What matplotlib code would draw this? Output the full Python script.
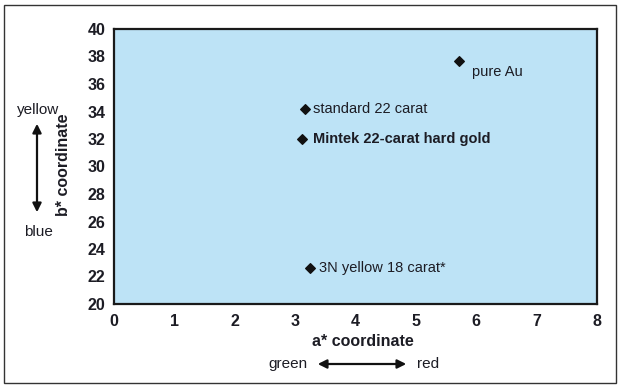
import matplotlib.pyplot as plt
from matplotlib.patches import Rectangle, FancyArrowPatch

# gold alloy colour coordinates (CIELab a*, b*)
names = ["pure Au", "standard 22 carat", "Mintek 22-carat hard gold", "3N yellow 18 carat*"]
a_star = [5.72, 3.16, 3.12, 3.25]
b_star = [37.7, 34.2, 32.0, 22.6]
bold = [False, False, True, False]
offsets = [(9, -8), (6, 0), (8, 0), (6, 0)]
x_ticks = list(range(0, 9))
y_ticks = list(range(20, 41, 2))

plt.rcParams['font.family'] = ['Liberation Sans', 'DejaVu Sans']
text_col = '#1c1c24'

fig = plt.figure(figsize=(6.22, 3.86), dpi=100)
fig.patch.set_facecolor('white')
fig.patches.append(Rectangle((4 / 622, 1 - 383 / 386), 612 / 622, 378 / 386,
                             transform=fig.transFigure, fill=False,
                             edgecolor='#333333', linewidth=1.0))

ax = fig.add_axes([114 / 622, 1 - 304 / 386, 483 / 622, 275 / 386])
ax.set_facecolor('#bde3f6')
ax.set_xlim(0, 8)
ax.set_ylim(20, 40)
ax.set_xticks(x_ticks)
ax.set_yticks(y_ticks)
ax.tick_params(length=0, labelsize=11.5, labelcolor=text_col)
ax.tick_params(axis='x', pad=7)
ax.tick_params(axis='y', pad=6)
for lab in ax.get_xticklabels() + ax.get_yticklabels():
    lab.set_fontweight('bold')
for s in ax.spines.values():
    s.set_linewidth(1.6)
    s.set_color('#1a1a1a')

ax.scatter(a_star, b_star, marker='D', s=24, color='#111111', zorder=3)
for n, x, y, b, off in zip(names, a_star, b_star, bold, offsets):
    ax.annotate(n, (x, y), xytext=off, textcoords='offset points',
                ha='left', va='center', fontsize=10.5, color=text_col,
                fontweight='bold' if b else 'normal')

# axis titles
fig.text(363 / 622, 1 - 342 / 386, "a* coordinate", ha='center', va='center',
         fontsize=11.5, fontweight='bold', color=text_col)
fig.text(64 / 622, 1 - 165 / 386, "b* coordinate", ha='center', va='center',
         rotation=90, fontsize=11.5, fontweight='bold', color=text_col)

# direction hints
fig.text(38 / 622, 1 - 110 / 386, "yellow", ha='center', va='center', fontsize=11, color=text_col)
fig.text(38 / 622, 1 - 232 / 386, "blue", ha='center', va='center', fontsize=11, color=text_col)
fig.text(288 / 622, 1 - 364 / 386, "green", ha='center', va='center', fontsize=11, color=text_col)
fig.text(428 / 622, 1 - 364 / 386, "red", ha='center', va='center', fontsize=11, color=text_col)

fig.patches.append(FancyArrowPatch(
    (37 / 622, 1 - 121 / 386), (37 / 622, 1 - 215 / 386), transform=fig.transFigure,
    arrowstyle='<|-|>', mutation_scale=13, color='#111111', linewidth=1.6))
fig.patches.append(FancyArrowPatch(
    (315 / 622, 1 - 364 / 386), (409 / 622, 1 - 364 / 386), transform=fig.transFigure,
    arrowstyle='<|-|>', mutation_scale=13, color='#111111', linewidth=1.6))

fig.savefig("out.png", dpi=100)
